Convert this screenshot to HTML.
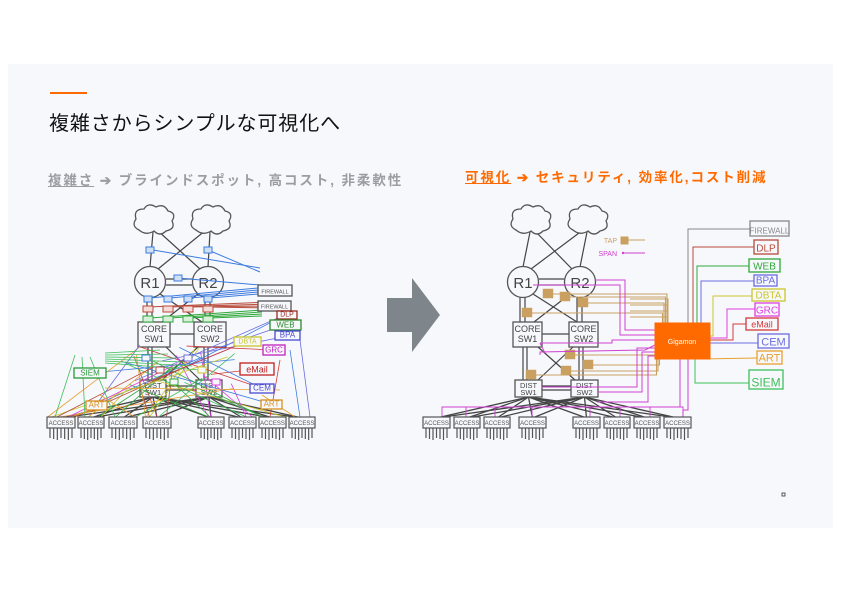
<!DOCTYPE html>
<html><head><meta charset="utf-8">
<style>
html,body{margin:0;padding:0;background:#fff;}
body{width:842px;height:595px;position:relative;overflow:hidden;font-family:"Liberation Sans","Noto Sans CJK JP",sans-serif;}
#panel{position:absolute;left:8px;top:64px;width:825px;height:464px;background:#f7f8fc;}
#bar{position:absolute;left:50px;top:92px;width:37px;height:2px;background:#ff6a00;}
#title{position:absolute;left:49px;top:107px;font-size:20px;color:#111;white-space:nowrap;letter-spacing:0.9px;}
#sub1{position:absolute;left:48px;top:169px;font-size:13.5px;font-weight:bold;color:#9a9ea3;white-space:nowrap;letter-spacing:1.9px;}
#sub2{position:absolute;left:465px;top:166px;font-size:13.5px;font-weight:bold;color:#ff6a00;white-space:nowrap;letter-spacing:1.9px;}
svg{position:absolute;left:0;top:0;}
</style></head><body>
<div id="panel"></div>
<div id="bar"></div>
<div id="title">複雑さからシンプルな可視化へ</div>
<div id="sub1"><u>複雑さ</u> ➔ ブラインドスポット, 高コスト, 非柔軟性</div>
<div id="sub2"><u>可視化</u> ➔ セキュリティ, 効率化,コスト削減</div>
<svg id="s" width="842" height="595" xmlns="http://www.w3.org/2000/svg" font-family="Liberation Sans, sans-serif"></svg>
<script>
var s=document.getElementById('s'),h='';
function L(x1,y1,x2,y2,c,w){h+='<line x1="'+x1+'" y1="'+y1+'" x2="'+x2+'" y2="'+y2+'" stroke="'+c+'" stroke-width="'+(w||1)+'"/>';}
function P(pts,c,w){h+='<polyline points="'+pts+'" fill="none" stroke="'+c+'" stroke-width="'+(w||1)+'"/>';}
function R(x,y,w,ht,c,f,sw){h+='<rect x="'+x+'" y="'+y+'" width="'+w+'" height="'+ht+'" fill="'+(f||'#f7f8fc')+'" stroke="'+c+'" stroke-width="'+(sw||1)+'"/>';}
function T(x,y,t,c,fs,anch){h+='<text x="'+x+'" y="'+y+'" fill="'+c+'" font-size="'+fs+'" text-anchor="'+(anch||'middle')+'">'+t+'</text>';}
function lab(x,y,w,ht,t,c,fs){R(x,y,w,ht,c,'#f7f8fc',1.3);T(x+w/2,y+ht-2.5,t,c,fs||8);}
function cloud(cx,cy){h+='<path d="M'+(cx-14)+','+(cy+10)+' q-8,-4 -3,-11 q-3,-10 8,-10 q4,-7 12,-2 q8,-4 12,4 q9,2 4,10 q4,8 -6,10 q-6,6 -12,0 q-8,5 -15,-1z" fill="#f7f8fc" stroke="#555" stroke-width="1.3"/>';}
var dk='#444',cols=['#3c7be0','#b94a3a','#2fa83a','#6b6be0','#c9c62a','#e040e0','#d23a3a','#e8a030','#3fbf5a'];
var seed=7;function rnd(){seed=(seed*9301+49297)%233280;return seed/233280;}

function net(o,acc){
 var c1=[o.c1x,220],c2=[o.c2x,220];
 L(c1[0],232,o.r1[0],o.r1[1]-15,dk,1.2);L(c2[0],232,o.r2[0],o.r2[1]-15,dk,1.2);
 L(c1[0]+4,230,o.r2[0]-8,o.r2[1]-13,dk,1.2);L(c2[0]-4,230,o.r1[0]+8,o.r1[1]-13,dk,1.2);
 L(o.r1[0]+16,o.r1[1]-3,o.r2[0]-16,o.r2[1]-3,dk,1.2);L(o.r1[0]+16,o.r1[1]+3,o.r2[0]-16,o.r2[1]+3,dk,1.2);
 L(o.r1[0]-3,o.r1[1]+15,o.r1[0]-3,o.core1[1],dk,1.2);L(o.r1[0]+2,o.r1[1]+15,o.r1[0]+2,o.core1[1],dk,1.2);
 L(o.r2[0]-3,o.r2[1]+15,o.r2[0]-3,o.core1[1],dk,1.2);L(o.r2[0]+2,o.r2[1]+15,o.r2[0]+2,o.core1[1],dk,1.2);
 L(o.r1[0]+10,o.r1[1]+12,o.core2[0]+8,o.core1[1],dk,1.2);L(o.r2[0]-10,o.r2[1]+12,o.core1[0]+o.cw-8,o.core1[1],dk,1.2);
 var cy2=o.core1[1]+25;
 L(o.core1[0]+o.cw,o.core1[1]+12,o.core2[0],o.core1[1]+12,dk,1.2);
 [o.dist1[0]+8,o.dist1[0]+12].forEach(function(x){L(x,cy2,x,o.dist1[1],dk,1.2);});
 [o.dist2[0]+8,o.dist2[0]+12].forEach(function(x){L(x,cy2,x,o.dist1[1],dk,1.2);});
 L(o.core1[0]+o.cw-4,cy2,o.dist2[0]+4,o.dist1[1],dk,1.2);L(o.core2[0]+4,cy2,o.dist1[0]+o.dw-4,o.dist1[1],dk,1.2);
 L(o.dist1[0]+o.dw,o.dist1[1]+6,o.dist2[0],o.dist1[1]+6,dk,1.2);L(o.dist1[0]+o.dw,o.dist1[1]+10,o.dist2[0],o.dist1[1]+10,dk,1.2);
 acc.forEach(function(a){var m=a[0]+(a[1]-a[0])/2;
  L(o.dist1[0]+o.dw/2,o.dist1[1]+17,m,418,dk,1.3);L(o.dist2[0]+o.dw/2,o.dist1[1]+17,m,418,dk,1.3);});
 cloud(c1[0],c1[1]);cloud(c2[0],c2[1]);
 h+='<circle cx="'+o.r1[0]+'" cy="'+o.r1[1]+'" r="15.5" fill="#f7f8fc" stroke="#555" stroke-width="1.3"/>';
 h+='<circle cx="'+o.r2[0]+'" cy="'+o.r2[1]+'" r="15.5" fill="#f7f8fc" stroke="#555" stroke-width="1.3"/>';
 T(o.r1[0],o.r1[1]+6,'R1','#444',15);T(o.r2[0],o.r2[1]+6,'R2','#444',15);
 R(o.core1[0],o.core1[1],o.cw,25,'#555','#f7f8fc',1.3);R(o.core2[0],o.core1[1],o.cw,25,'#555','#f7f8fc',1.3);
 T(o.core1[0]+o.cw/2,o.core1[1]+10,'CORE','#444',9);T(o.core1[0]+o.cw/2,o.core1[1]+20,'SW1','#444',9);
 T(o.core2[0]+o.cw/2,o.core1[1]+10,'CORE','#444',9);T(o.core2[0]+o.cw/2,o.core1[1]+20,'SW2','#444',9);
 R(o.dist1[0],o.dist1[1],o.dw,17,'#555','#f7f8fc',1.3);R(o.dist2[0],o.dist1[1],o.dw,17,'#555','#f7f8fc',1.3);
 T(o.dist1[0]+o.dw/2,o.dist1[1]+8,'DIST','#444',7.5);T(o.dist1[0]+o.dw/2,o.dist1[1]+15,'SW1','#444',7.5);
 T(o.dist2[0]+o.dw/2,o.dist1[1]+8,'DIST','#444',7.5);T(o.dist2[0]+o.dw/2,o.dist1[1]+15,'SW2','#444',7.5);
}
function access(acc){acc.forEach(function(a){var w=a[1]-a[0];
  for(var i=0;i<7;i++){var x=a[0]+3+i*(w-6)/6;L(x,428,x,438+(i%3),'#555',1.2);}
  R(a[0],417,w,11,'#555','#f7f8fc',1.2);T(a[0]+w/2,425,'ACCESS','#555',6);});}

var accL=[[47,75],[78,104],[109,137],[143,171],[198,224],[229,256],[259,286],[289,315]];
var oL={c1x:153,c2x:210,r1:[150,282],r2:[208,282],core1:[138,322],core2:[194,322],cw:32,dist1:[140,380],dist2:[196,380],dw:26};
net(oL,accL);
L(153,250,260,268,'#3c7be0');L(208,250,260,272,'#3c7be0');L(178,278,260,285,'#3c7be0');
for(var i=0;i<4;i++){L(150+i*20,298,258,288+i*2,'#3c7be0');L(148+i*20,307,270,302+i*2,'#b94a3a');L(150+i*20,318,262,310+i*2,'#2fa83a');}
[[150,250],[208,250],[178,278]].forEach(function(p){R(p[0]-4,p[1]-3,8,6,'#3c7be0','#cfe0f5');});
for(var i=0;i<4;i++){var x=148+i*20;R(x-4,296,8,6,'#3c7be0','#cfe0f5');R(x-5,306,10,6,'#b94a3a','#f5dcd8');R(x-5,316,10,6,'#2fa83a','#d8f0da');}
var targets=[[287,314],[285,325],[288,336],[248,341],[274,350],[257,369],[261,388],[271,404],[90,373],[96,405]];
for(var i=0;i<42;i++){var c=cols[i%cols.length];var sx=120+rnd()*120,sy=345+rnd()*45;
 var t=(i%3==0)?targets[i%targets.length]:accL[Math.floor(rnd()*8)];
 if(i%3==0)L(sx,sy,t[0],t[1],c,0.8);else L(sx,sy,t[0]+rnd()*(t[1]-t[0]),417,c,0.8);}
for(var i=0;i<6;i++){L(105,353+i*2,160+i*8,350+i*4,'#3fbf5a',0.8);}
L(75,355,55,417,'#3fbf5a',0.8);L(82,357,85,417,'#3fbf5a',0.8);L(90,357,115,417,'#3fbf5a',0.8);
L(100,408,70,417,'#e8a030',0.8);L(100,395,135,417,'#e8a030',0.8);L(105,388,280,390,'#e8a030',0.8);
L(300,340,310,417,'#6b6be0',0.8);L(290,350,300,417,'#3c7be0',0.8);L(280,360,270,417,'#d23a3a',0.8);L(262,395,295,417,'#e8a030',0.8);
for(var i=0;i<6;i++){var x=142+i*14,y=355+(i%3)*12;R(x,y,8,6,cols[i%6],'#f7f8fc');}
lab(258,285,34,11,'FIREWALL','#555',5.5);lab(258,301,33,10,'FIREWALL','#555',5.5);
lab(277,311,20,8,'DLP','#9a2a1e',7);lab(270,320,31,10,'WEB','#2a8a2a',8);lab(275,331,25,9,'BPA','#4a4ad0',8);
lab(234,337,27,9,'DBTA','#c9c62a',7);lab(263,345,22,10,'GRC','#c020c0',8);lab(240,363,34,12,'eMail','#c02020',9);
lab(250,384,24,9,'CEM','#4a4ad0',8);lab(261,400,21,9,'ART','#d89020',8);lab(74,368,32,10,'SIEM','#2a9a3a',8);lab(86,401,21,9,'ART','#d89020',8);
access(accL);

h+='<polygon points="387,298 412,298 412,278 440,315 412,352 412,332 387,332" fill="#7e858b"/>';

var accR=[[423,450],[454,480],[484,510],[519,546],[573,600],[604,630],[634,660],[664,691]];
var oR={c1x:530,c2x:587,r1:[523,282],r2:[580,282],core1:[513,322],core2:[569,322],cw:29,dist1:[515,380],dist2:[571,380],dw:27};
net(oR,accR);
var tan='#c9a060',mag='#d040d0';
var tl=[[548,294],[565,297],[583,303],[527,313],[570,355],[588,365],[566,371],[531,375]];
tl.forEach(function(p,i){P(p[0]+','+p[1]+' '+(667-i*1.5)+','+p[1]+' '+(667-i*1.5)+',330',tan,1.1);});
for(var i=0;i<4;i++){P('630,'+(299+i*6)+' 668,'+(299+i*6)+' 668,330',tan,1);}
tl.forEach(function(p){R(p[0]-5,p[1]-5,10,9,tan,'#c9a060',0.5);});
P('533,285 620,285 620,335 655,335',mag);P('595,280 625,280 625,330 655,330',mag);
P('540,343 612,343 612,340 655,340',mag);P('540,355 540,352 645,350 655,345',mag);
P('542,387 637,387 637,348 655,348',mag);P('598,392 642,392 642,352 655,352',mag);
P('597,402 648,402 648,356 655,356',mag);P('540,343 545,353',mag);
var xs=[442,466,495,532,590,620,650,683];
xs.forEach(function(x){P(x+',422 '+x+',407 680,407 680,359',mag,0.9);});
P('683,422 683,410 688,410 688,359',mag);
T(617,243,'TAP',tan,7,'end');R(621,237,7,7,tan,'#c9a060');L(628,240,645,240,tan);
T(617,256,'SPAN',mag,7,'end');h+='<circle cx="623" cy="253" r="1.2" fill="'+mag+'"/>';L(623,253,645,253,mag);
P('688,323 688,229 750,229','#888');P('693,323 693,247 754,247','#b94a3a');P('697,323 697,266 749,266','#2fa83a');
P('701,323 701,281 754,281','#6b6be0');P('710,336 713,336 713,296 752,296','#c9c62a');
P('710,338 727,338 727,309 755,309','#e040e0');P('710,340 733,340 733,324 746,324','#d23a3a');
P('710,343 758,343','#6b6be0');P('700,359 757,358','#e8a030');P('695,359 695,383 749,383','#3fbf5a');
R(655,323,55,36,'#ff6a00','#ff6a00');T(682,344,'Gigamon','#fff',7);
lab(750,221,39,15,'FIREWALL','#888',8);lab(754,240,24,14,'DLP','#b94a3a',10);lab(749,259,31,13,'WEB','#2fa83a',10);
lab(754,275,23,11,'BPA','#6b6be0',10);lab(752,289,33,12,'DBTA','#c9c62a',10);lab(755,303,24,13,'GRC','#e040e0',10);
lab(746,318,32,12,'eMail','#d23a3a',9);lab(758,334,31,14,'CEM','#6b6be0',11);lab(757,351,25,13,'ART','#e8a030',11);lab(749,370,34,19,'SIEM','#3fbf5a',12);
access(accR);
h+='<rect x="782" y="493" width="3" height="3" fill="none" stroke="#333" stroke-width="0.8"/>';
s.innerHTML=h;
</script>
</body></html>
